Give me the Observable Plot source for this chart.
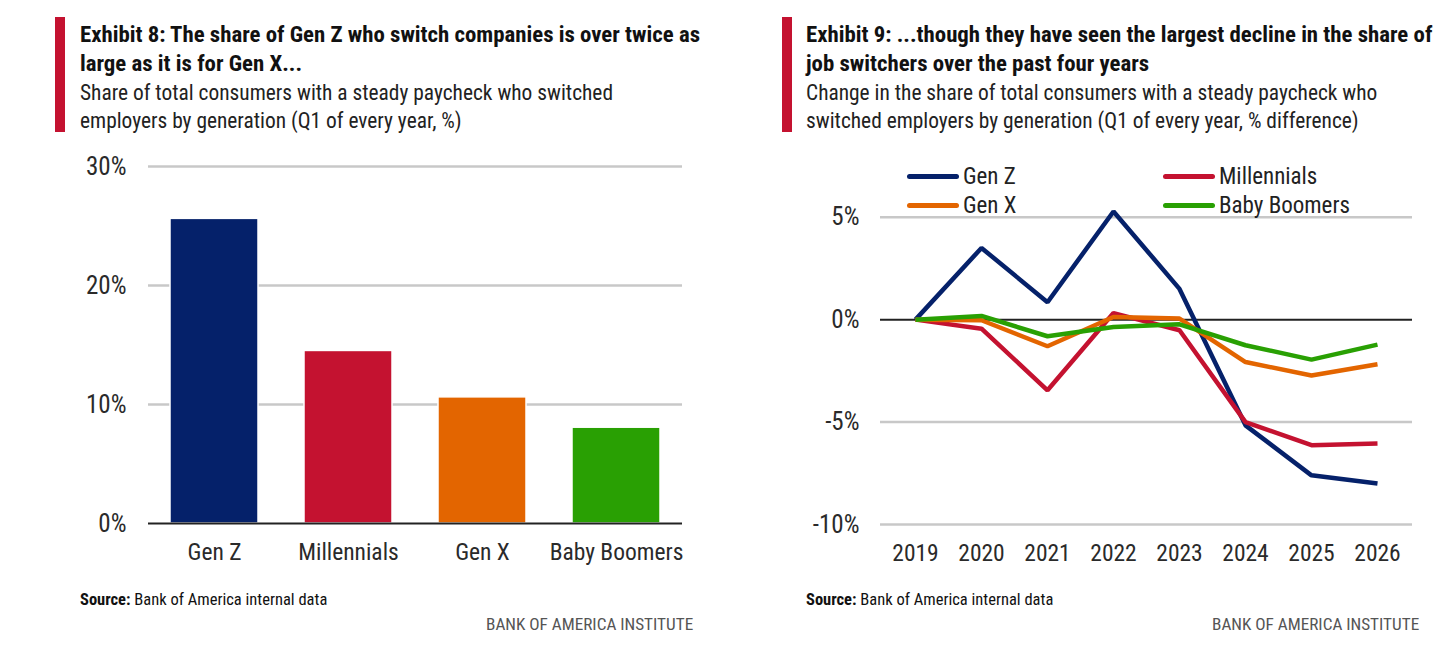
<!DOCTYPE html>
<html><head><meta charset="utf-8">
<script src="https://cdn.jsdelivr.net/npm/d3@7"></script>
<script src="https://cdn.jsdelivr.net/npm/@observablehq/plot@0.6"></script>
<style>
body{margin:0;background:#fff;width:1438px;height:656px;position:relative;overflow:hidden;font-family:"Roboto Condensed","Liberation Sans Narrow",sans-serif;color:#111}
.abs{position:absolute;white-space:nowrap}
.accent{position:absolute;background:#c41230;width:10px;top:17px;height:115px}
.title{font-weight:bold;font-size:22.8px;line-height:29px;top:20.4px;color:#111}
.sub{font-size:21.4px;line-height:28px;top:78.7px;color:#222}
.src{font-size:16.5px;line-height:16px;top:591.5px;color:#111}
.inst{font-size:17.2px;line-height:16px;top:615.5px;color:#555}
.leg{font-size:23px;line-height:30px;color:#222}
.sw{position:absolute;height:5px;border-radius:3px;width:52px}
.chart{position:absolute;top:140px}
</style></head>
<body>
<div class="accent" style="left:55px"></div>
<div class="abs title" style="left:80px">Exhibit 8: The share of Gen Z who switch companies is over twice as<br>large as it is for Gen X...</div>
<div class="abs sub" style="left:80px">Share of total consumers with a steady paycheck who switched<br>employers by generation (Q1 of every year, %)</div>
<div class="accent" style="left:782px"></div>
<div class="abs title" style="left:806px">Exhibit 9: ...though they have seen the largest decline in the share of<br>job switchers over the past four years</div>
<div class="abs sub" style="left:806px">Change in the share of total consumers with a steady paycheck who<br>switched employers by generation (Q1 of every year, % difference)</div>
<div id="left" class="chart" style="left:0px"></div>
<div id="right" class="chart" style="left:719px"></div>
<div id="legend"></div>
<div class="abs src" style="left:80px"><b>Source:</b> Bank of America internal data</div>
<div class="abs inst" style="left:486px">BANK OF AMERICA INSTITUTE</div>
<div class="abs src" style="left:806px"><b>Source:</b> Bank of America internal data</div>
<div class="abs inst" style="left:1212px">BANK OF AMERICA INSTITUTE</div>
<script>
// ---- Data ----
const generations = ["Gen Z", "Millennials", "Gen X", "Baby Boomers"];
const genColors = ["#05216a", "#c41230", "#e36500", "#29a003"];
const switchShare = [25.6, 14.5, 10.6, 8.05];
const barTicks = [0, 10, 20, 30];

const years = [2019, 2020, 2021, 2022, 2023, 2024, 2025, 2026];
const genZChange = [0, 3.5, 0.85, 5.28, 1.5, -5.16, -7.6, -8.0];
const millennialsChange = [0, -0.44, -3.45, 0.32, -0.52, -5.0, -6.13, -6.05];
const genXChange = [0, -0.03, -1.3, 0.13, 0.05, -2.07, -2.73, -2.18];
const boomersChange = [0, 0.18, -0.81, -0.36, -0.23, -1.25, -1.95, -1.22];
const lineTicks = [5, 0, -5, -10];

// ---- Tables ----
const barRows = generations.map((g, i) => ({gen: g, value: switchShare[i]}));
const seriesValues = [genZChange, millennialsChange, genXChange, boomersChange];
const lineRows = generations.flatMap((g, i) => years.map((y, j) => ({gen: g, year: String(y), value: seriesValues[i][j]})));

const font = '"Roboto Condensed","Liberation Sans Narrow",sans-serif';
const baseStyle = {fontFamily: font, fontSize: "23.5px", color: "#2a2a2a", background: "transparent", overflow: "visible"};
const pct = d => d + "%";

const left = Plot.plot({
  width: 719, height: 440,
  marginLeft: 148, marginRight: 37, marginTop: 26, marginBottom: 57,
  style: baseStyle,
  x: {domain: generations, paddingInner: 0.34, paddingOuter: 0.16, label: null},
  y: {domain: [0, 30], label: null},
  color: {domain: generations, range: genColors},
  marks: [
    Plot.ruleY(barTicks.filter(d => d !== 0), {stroke: "#c8c8c8", strokeWidth: 2.5}),
    Plot.barY(barRows, {x: "gen", y: "value", fill: "gen", stroke: "#fff", strokeWidth: 1.5}),
    Plot.ruleY([0], {stroke: "#222", strokeWidth: 2}),
    Plot.axisY({ticks: barTicks, tickSize: 0, tickPadding: 22, tickFormat: pct, label: null, fontSize: 25}),
    Plot.axisX({tickSize: 0, tickPadding: 20, label: null})
  ]
});
document.getElementById("left").append(left);

const right = Plot.plot({
  width: 719, height: 440,
  marginLeft: 161, marginRight: 26, marginTop: 76.7, marginBottom: 56,
  style: baseStyle,
  x: {type: "point", domain: years.map(String), padding: 0.5, label: null},
  y: {domain: [-10, 5], label: null},
  color: {domain: generations, range: genColors},
  marks: [
    Plot.ruleY(lineTicks.filter(d => d !== 0), {stroke: "#c8c8c8", strokeWidth: 2.5}),
    Plot.ruleY([0], {stroke: "#222", strokeWidth: 2}),
    Plot.line(lineRows, {x: "year", y: "value", z: "gen", stroke: "gen", strokeWidth: 4.5, strokeLinejoin: "miter", strokeLinecap: "butt"}),
    Plot.axisY({ticks: lineTicks, tickSize: 0, tickPadding: 21, tickFormat: pct, label: null, fontSize: 25}),
    Plot.axisX({tickSize: 0, tickPadding: 20, label: null})
  ]
});
document.getElementById("right").append(right);

// ---- Legend ----
const legendPos = [[907, 161.8], [1163, 161.8], [907, 191], [1163, 191]];
const legend = document.getElementById("legend");
generations.forEach((g, i) => {
  const [lx, ly] = legendPos[i];
  const sw = document.createElement("div");
  sw.className = "sw";
  sw.style.left = lx + "px"; sw.style.top = (ly + 12) + "px"; sw.style.background = genColors[i];
  legend.append(sw);
  const t = document.createElement("div");
  t.className = "abs leg";
  t.style.left = (lx + 56) + "px"; t.style.top = ly + "px";
  t.textContent = g;
  legend.append(t);
});
</script>
</body></html>
